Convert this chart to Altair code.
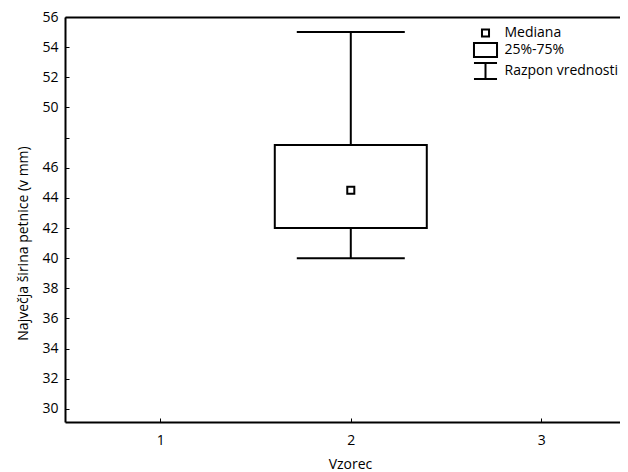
import altair as alt
import pandas as pd

# ---- data ----
samples = [2]
mins = [40.0]
q1s = [42.0]
medians = [44.5]
q3s = [47.5]
maxs = [55.0]
legend_labels = ["Mediana", "25%-75%", "Razpon vrednosti"]
y_tick_values = list(range(30, 57, 2))
x_tick_values = [1, 2, 3]

df = pd.DataFrame({
    "vzorec": samples, "min": mins, "q1": q1s,
    "med": medians, "q3": q3s, "max": maxs,
    "kind": [legend_labels[0]] * len(samples),
})

FONT = "Open Sans"
FS = 14
BLACK = "black"

# legend glyphs (custom symbol paths, unit box of the symbol size)
legend_paths = [
    "M-0.44,-0.44L0.44,-0.44L0.44,0.44L-0.44,0.44Z",
    "M-1.44,-0.875L1.44,-0.875L1.44,0.875L-1.44,0.875Z",
    "M-1.44,-1L1.44,-1M0,-1L0,1M-1.44,1L1.44,1",
]

xscale = alt.Scale(domain=[0.5, 3.413], nice=False, zero=False, padding=0)
yscale = alt.Scale(domain=[29.13, 56], nice=False, zero=False, padding=0)

x_main = alt.Axis(
    orient="bottom", values=x_tick_values, format="d", ticks=False, tickSize=0,
    domain=True, domainWidth=2, domainColor=BLACK, grid=False,
    labelFont=FONT, labelFontSize=FS, labelColor=BLACK, labelBaseline="middle",
    labelPadding=18, title="Vzorec", titleFont=FONT, titleFontSize=FS,
    titleFontWeight="normal", titleColor=BLACK, titleX=285, titleY=42,
    titleBaseline="middle",
)
x_tick_axis = alt.Axis(
    orient="bottom", values=x_tick_values, offset=-4, ticks=True, tickSize=4,
    tickWidth=1, tickColor=BLACK, labels=False, domain=False, grid=False, title=None,
)
x_top = alt.Axis(
    orient="top", ticks=False, labels=False, domain=True, domainWidth=2,
    domainColor=BLACK, grid=False, title=None,
)
y_main = alt.Axis(
    orient="left", values=y_tick_values, ticks=False, tickSize=0,
    labelExpr="datum.value == 48 ? '' : datum.label",
    domain=True, domainWidth=2, domainColor=BLACK, grid=False,
    labelFont=FONT, labelFontSize=FS, labelColor=BLACK, labelPadding=7,
    title="Največja širina petnice (v mm)", titleFont=FONT, titleFontSize=FS,
    titleFontWeight="normal", titleColor=BLACK, titleAngle=270,
    titleX=-42, titleY=226, titleBaseline="middle",
)
y_tick_axis = alt.Axis(
    orient="left", values=y_tick_values, offset=-4, ticks=True, tickSize=4,
    tickWidth=1, tickColor=BLACK, labels=False, domain=False, grid=False, title=None,
)

base = alt.Chart(df)

whisker = base.mark_rule(color=BLACK, strokeWidth=2).encode(
    x=alt.X("vzorec:Q", scale=xscale, axis=x_main),
    y=alt.Y("min:Q", scale=yscale, axis=y_main),
    y2="max:Q",
)
cap_lo = base.mark_tick(orient="horizontal", size=108, thickness=2,
                        color=BLACK, opacity=1).encode(
    x=alt.X("vzorec:Q", scale=xscale, axis=x_tick_axis),
    y=alt.Y("min:Q", scale=yscale, axis=y_tick_axis),
)
cap_hi = base.mark_tick(orient="horizontal", size=108, thickness=2,
                        color=BLACK, opacity=1).encode(
    x=alt.X("vzorec:Q", scale=xscale, axis=x_top),
    y=alt.Y("max:Q", scale=yscale, axis=None),
)
box = base.mark_bar(width=152, fill="white", stroke=BLACK, strokeWidth=2,
                    opacity=1).encode(
    x=alt.X("vzorec:Q", scale=xscale, axis=None),
    y=alt.Y("q1:Q", scale=yscale, axis=None),
    y2="q3:Q",
)
median = base.mark_point(filled=False, size=256, strokeWidth=2, color=BLACK,
                         opacity=1).encode(
    x=alt.X("vzorec:Q", scale=xscale, axis=None),
    y=alt.Y("med:Q", scale=yscale, axis=None),
    shape=alt.Shape(
        "kind:N",
        scale=alt.Scale(domain=legend_labels, range=legend_paths),
        legend=alt.Legend(
            title=None, orient="none", legendX=411.5, legendY=7, padding=0,
            symbolSize=256, symbolStrokeWidth=2, symbolStrokeColor=BLACK,
            symbolOffset=0, labelOffset=10, rowPadding=-2,
            labelFont=FONT, labelFontSize=FS, labelColor=BLACK, labelLimit=0,
        ),
    ),
)

chart = (
    alt.layer(whisker, cap_lo, cap_hi, box, median)
    .resolve_axis(x="independent", y="independent")
    .properties(
        width=555, height=405, autosize="none",
        padding={"left": 57, "top": 9, "right": 0, "bottom": 50},
        background="white",
    )
    .configure_view(stroke=None)
)

chart.save("out.html", embed_options={"renderer": "svg", "actions": False})
